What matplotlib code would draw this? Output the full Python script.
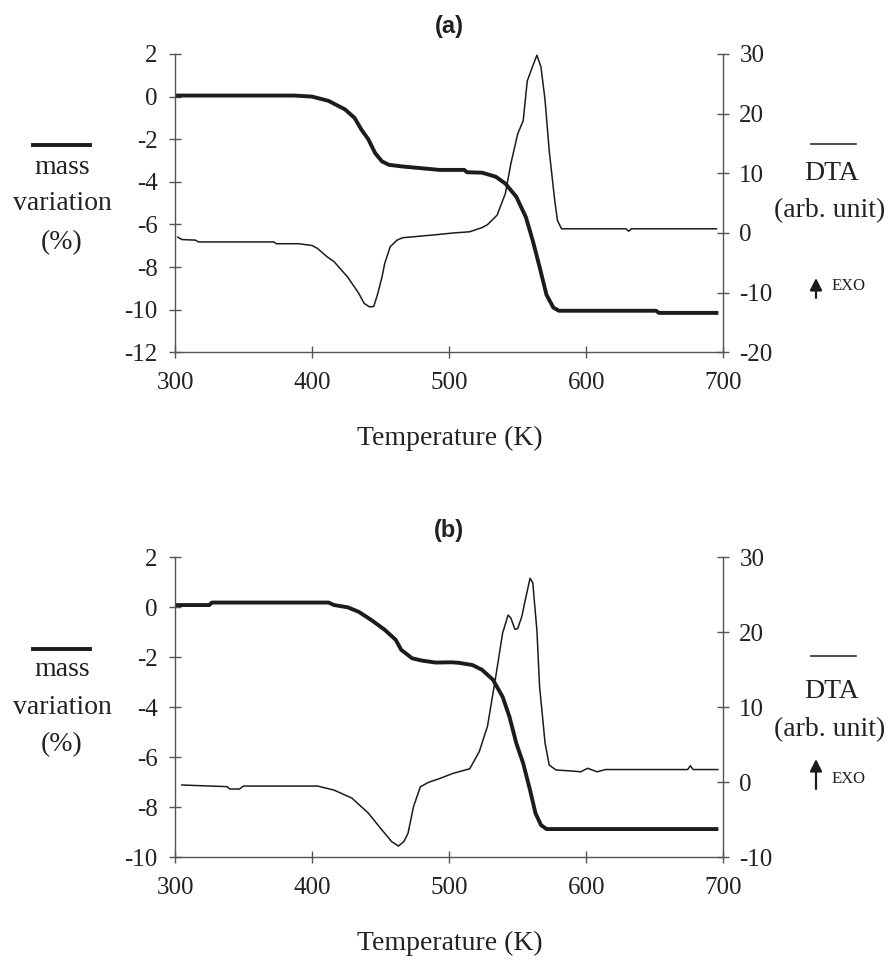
import matplotlib
matplotlib.use("Agg")
import matplotlib.pyplot as plt
from matplotlib.lines import Line2D
from matplotlib.patches import FancyArrowPatch

plt.rcParams['font.family'] = ['Liberation Serif', 'DejaVu Serif']
plt.rcParams['axes.unicode_minus'] = False

# ---- данные, панель (a) ----
T_mass_a = [302, 387, 400, 412, 424, 431, 436, 441, 446, 451, 456, 466, 478, 493,
            511, 513, 524, 534, 541, 549, 556, 561, 566, 571, 576, 580, 651, 653, 695]
mass_a = [0.05, 0.05, 0.0, -0.2, -0.6, -1.0, -1.55, -2.0, -2.65, -3.04, -3.2, -3.28, -3.35, -3.44,
          -3.44, -3.55, -3.57, -3.76, -4.08, -4.7, -5.66, -6.76, -8.0, -9.3, -9.9, -10.05, -10.05,
          -10.15, -10.15]

T_dta_a = [302, 305, 315, 317, 372, 374, 390, 400, 404, 411, 416, 426, 434, 438, 442, 445,
           448, 451, 453, 457, 462, 466, 478, 490, 503, 515, 524, 528, 535, 541, 545, 550,
           554, 557, 561, 564, 567, 570, 573, 577, 579, 582, 629, 631, 633, 695]
dta_a = [-0.7, -1.1, -1.2, -1.5, -1.5, -1.8, -1.8, -2.1, -2.6, -4.0, -4.8, -7.4, -10.1, -11.8,
         -12.4, -12.3, -10.1, -7.4, -5.1, -2.3, -1.2, -0.8, -0.55, -0.3, 0.0, 0.2, 0.9, 1.4,
         3.0, 6.6, 11.6, 16.6, 18.8, 25.5, 28.0, 29.8, 27.8, 22.2, 13.8, 5.5, 2.1, 0.7, 0.7,
         0.3, 0.7, 0.7]

# ---- данные, панель (b) ----
T_mass_b = [301, 325, 327, 412, 416, 426, 434, 443, 453, 461, 465, 473, 480, 490, 502, 507,
            517, 524, 532, 539, 544, 549, 554, 559, 563, 567, 571, 695]
mass_b = [0.09, 0.09, 0.19, 0.19, 0.09, 0.0, -0.18, -0.5, -0.9, -1.3, -1.7, -2.04, -2.13, -2.21,
          -2.2, -2.22, -2.31, -2.5, -2.9, -3.58, -4.38, -5.44, -6.24, -7.31, -8.24, -8.71, -8.87,
          -8.87]

T_dta_b = [305, 338, 340, 347, 350, 404, 416, 429, 441, 451, 458, 463, 467, 470, 474, 479,
           485, 493, 503, 515, 522, 528, 534, 539, 543, 545, 548, 550, 553, 556, 559, 561,
           564, 566, 570, 573, 578, 590, 596, 601, 608, 614, 674, 676, 678, 696]
dta_b = [-0.36, -0.58, -0.9, -0.9, -0.5, -0.5, -1.04, -2.1, -4.1, -6.36, -7.9, -8.5, -7.9,
         -6.8, -3.24, -0.6, 0.0, 0.5, 1.2, 1.8, 4.1, 7.5, 14.1, 19.9, 22.3, 21.9, 20.4, 20.5,
         22.1, 24.7, 27.2, 26.6, 20.3, 12.7, 5.2, 2.3, 1.64, 1.5, 1.4, 1.87, 1.4, 1.7, 1.7,
         2.2, 1.7, 1.7]

x_ticks = [300, 400, 500, 600, 700]

W, H = 889, 960
AX_COL = '#555555'
INK = '#1c1c1c'


def fx(px):
    return px / W


def fy(py):
    return 1 - py / H


def panel(fig, top, bottom, T_m, m, T_d, d, ylim_l, ylim_r, step_r, label, ytxt):
    ax = fig.add_axes([fx(175), fy(bottom), fx(723.3) - fx(175), (bottom - top) / H])
    ax2 = ax.twinx()

    ax.plot(T_m, m, color=INK, lw=2.8, solid_joinstyle='round')
    ax2.plot(T_d, d, color=INK, lw=1.1)

    ax.set_xlim(300, 700)
    ax.set_xticks(x_ticks)
    ax.set_ylim(*ylim_l)
    ax.set_yticks(range(ylim_l[0], ylim_l[1] + 1, 2))
    ax2.set_ylim(*ylim_r)
    ax2.set_yticks(range(ylim_r[0], ylim_r[1] + 1, step_r))

    for a in (ax, ax2):
        a.spines['top'].set_visible(False)
        for s in a.spines.values():
            s.set_color(AX_COL)
            s.set_linewidth(1.0)
        a.tick_params(direction='inout', length=9, width=1.0, color=AX_COL,
                      labelsize=18, labelcolor='#222222')
    ax.spines['right'].set_visible(False)
    ax2.spines['left'].set_visible(False)
    ax2.spines['bottom'].set_visible(False)
    ax.tick_params(axis='y', pad=8)
    ax.tick_params(axis='x', pad=10)
    ax2.tick_params(axis='y', pad=7)

    # заголовок панели и подпись оси X
    fig.text(fx(449), fy(top - 27), label, ha='center', va='center', fontsize=17,
             fontweight='bold', family='Liberation Sans', color='#222222')
    fig.text(fx(450), fy(bottom + 86), 'Temperature (K)', ha='center', va='center',
             fontsize=20, color='#222222')

    # левая подпись "mass variation (%)"
    y0 = ytxt[0]
    fig.add_artist(Line2D([fx(33), fx(90)], [fy(y0), fy(y0)], transform=fig.transFigure,
                          color=INK, lw=2.8))
    for txt, yy in zip(['mass', 'variation', '(%)'], ytxt[1:4]):
        fig.text(fx(62), fy(yy), txt, ha='center', va='center', fontsize=20, color='#222222')

    # правая подпись "DTA (arb. unit)"
    r = ytxt[4:]
    fig.add_artist(Line2D([fx(811), fx(856)], [fy(r[0]), fy(r[0])], transform=fig.transFigure,
                          color=INK, lw=1.1))
    fig.text(fx(832), fy(r[1]), 'DTA', ha='center', va='center', fontsize=20, color='#222222')
    fig.text(fx(830), fy(r[2]), '(arb. unit)', ha='center', va='center', fontsize=20,
             color='#222222')
    fig.add_artist(FancyArrowPatch((fx(816), fy(r[4])), (fx(816), fy(r[3])),
                                   transform=fig.transFigure, arrowstyle='-|>',
                                   mutation_scale=18, lw=1.6, color=INK,
                                   shrinkA=0, shrinkB=0))
    fig.text(fx(832), fy(r[5]), 'EXO', ha='left', va='center', fontsize=12, color='#222222')
    return ax, ax2


fig = plt.figure(figsize=(W / 100, H / 100), dpi=100)

panel(fig, 54, 352.3, T_mass_a, mass_a, T_dta_a, dta_a, (-12, 2), (-20, 30), 10, '(a)',
      [145, 167, 204, 243, 144, 173, 211, 278, 298, 286])
panel(fig, 557.3, 857.3, T_mass_b, mass_b, T_dta_b, dta_b, (-10, 2), (-10, 30), 10, '(b)',
      [649, 670, 708, 745, 656, 692, 730, 759, 789, 779])

fig.savefig('out.png', dpi=100)
